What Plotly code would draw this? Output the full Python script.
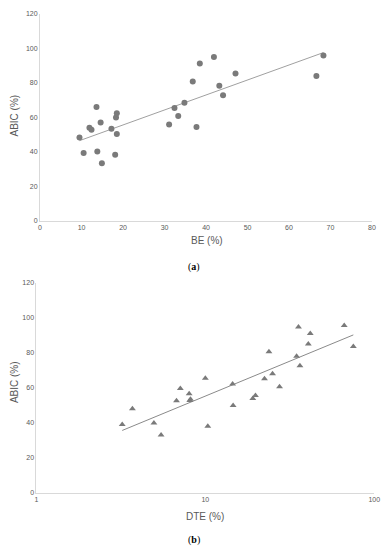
import numpy as np
import plotly.graph_objects as go

# Panel (a): BE vs ABiC
be = [9.5, 10.5, 11.9, 12.4, 13.6, 13.8, 14.6, 14.9, 17.2, 18.1, 18.3, 18.5, 18.5,
      31.1, 32.4, 33.3, 34.8, 36.8, 37.7, 38.5, 41.9, 43.2, 44.1, 47.1, 66.6, 68.3]
abic_a = [48.2, 39.2, 53.9, 52.7, 65.9, 40.1, 56.9, 33.3, 53.3, 38.2, 59.8, 50.3, 62.3,
          55.8, 65.4, 60.8, 68.4, 80.8, 54.3, 91.3, 95.0, 78.3, 72.8, 85.4, 83.9, 95.9]

# Panel (b): DTE (log) vs ABiC
dte = [3.22, 3.70, 4.96, 5.47, 6.75, 7.11, 8.02, 8.09, 8.17, 10.0, 10.34, 14.5, 14.6,
       19.1, 19.8, 22.4, 23.8, 25.0, 27.5, 34.7, 35.6, 36.3, 40.7, 41.8, 66.4, 75.2]
abic_b = [39.1, 48.1, 40.0, 33.1, 52.6, 59.7, 56.7, 52.8, 53.5, 65.5, 38.1, 62.2, 50.0,
          53.9, 55.6, 65.2, 80.6, 68.0, 60.7, 78.1, 94.8, 72.7, 85.1, 91.1, 95.6, 83.6]

y_ticks = [0, 20, 40, 60, 80, 100, 120]
x_ticks_a = [0, 10, 20, 30, 40, 50, 60, 70, 80]
x_ticks_b = [1, 10, 100]

# the page body has a default 8px margin, so the figure is drawn inside it
OFF = 8
W, H = 392 - OFF, 550 - OFF
MK = "#7a7a7a"
LN = "#a0a0a0"
TXT = "#595959"
AX = "#d9d9d9"

# trendlines
ka, ba = np.polyfit(be, abic_a, 1)
xa = np.array([min(be), max(be)])
ya = ka * xa + ba
lb = np.log10(dte)
kb, bb = np.polyfit(lb, abic_b, 1)
xb = np.array([min(dte), max(dte)])
yb = kb * np.log10(xb) + bb

fig = go.Figure()
fig.add_trace(go.Scatter(x=list(xa), y=list(ya), mode="lines",
                         line=dict(color=LN, width=1), xaxis="x", yaxis="y",
                         hoverinfo="skip"))
fig.add_trace(go.Scatter(x=be, y=abic_a, mode="markers",
                         marker=dict(symbol="circle", size=6, color=MK),
                         xaxis="x", yaxis="y"))
fig.add_trace(go.Scatter(x=list(xb), y=list(yb), mode="lines",
                         line=dict(color="#8a8a8a", width=1), xaxis="x2", yaxis="y2",
                         hoverinfo="skip"))
fig.add_trace(go.Scatter(x=dte, y=abic_b, mode="markers",
                         marker=dict(symbol="triangle-up", size=6, color=MK),
                         xaxis="x2", yaxis="y2"))

def px(x):
    return (x - OFF) / W

def py(y):
    return 1 - (y - OFF) / H

tickfont = dict(family="Liberation Sans, Arial, sans-serif", size=7, color=TXT)
common = dict(showgrid=False, zeroline=False, showline=True, linecolor=AX,
              linewidth=1, ticks="", tickfont=tickfont, ticklabeloverflow="allow")

fig.update_layout(
    width=W, height=H, margin=dict(l=0, r=0, t=0, b=0),
    paper_bgcolor="white", plot_bgcolor="white", showlegend=False,
    xaxis=dict(domain=[px(38.7), px(377.7)], range=[0, 80], tickvals=x_ticks_a,
               anchor="y", **common),
    yaxis=dict(domain=[py(219.3), py(10)], range=[0, 120], tickvals=y_ticks,
               anchor="x", **common),
    xaxis2=dict(domain=[px(35), px(380)], type="log", range=[0, 2],
                tickvals=x_ticks_b, ticktext=[str(v) for v in x_ticks_b],
                anchor="y2", **common),
    yaxis2=dict(domain=[py(495.3), py(282.3)], range=[0, 120], tickvals=y_ticks,
                anchor="x2", **common),
)

tfont = dict(family="Liberation Sans, Arial, sans-serif", size=10, color=TXT)
lfont = dict(family="Liberation Serif, Times New Roman, serif", size=10, color="#000")
ann = [
    dict(text="ABIC (%)", x=px(13), y=py(113), textangle=-90, font=tfont),
    dict(text="BE (%)", x=px(209), y=py(239), font=tfont),
    dict(text="(<b>a</b>)", x=px(196), y=py(266), font=lfont),
    dict(text="ABIC (%)", x=px(12), y=py(383), textangle=-90, font=tfont),
    dict(text="DTE (%)", x=px(207), y=py(519), font=tfont),
    dict(text="(<b>b</b>)", x=px(196), y=py(543), font=lfont),
]
for a in ann:
    fig.add_annotation(xref="paper", yref="paper", showarrow=False,
                       xanchor="center", yanchor="middle", **a)

fig.write_html("out.html")
